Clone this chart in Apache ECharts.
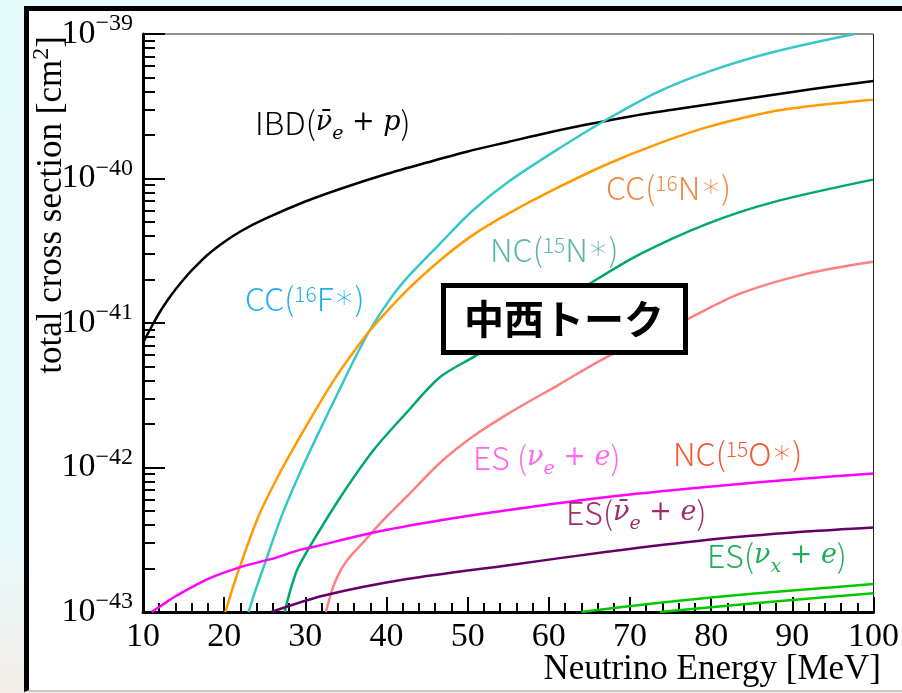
<!DOCTYPE html>
<html>
<head>
<meta charset="utf-8">
<script src="https://cdn.jsdelivr.net/npm/echarts@6/dist/echarts.min.js"></script>
<style>
  html, body { margin: 0; padding: 0; width: 902px; height: 693px; overflow: hidden; }
  body { background: linear-gradient(180deg, #e6fbfb 0%, #e8fafa 78%, #f2ece8 100%); }
  #panel { position: absolute; left: 24px; top: 6px; width: 900px; height: 679px; background: #fff;
           border-left: 5px solid #000; border-top: 5px solid #000; border-bottom: 2px solid #c8c8c8; }
  #chart { position: absolute; left: 0; top: 0; width: 902px; height: 693px; }
</style>
</head>
<body>
<div id="panel"></div>
<div id="chart"></div>
<script>
// Neutrino energy [MeV] and total cross section [cm^2] for each reaction channel
const energyIBD = [10, 11, 12, 13, 14, 15, 16, 18, 20, 22, 25, 30, 35, 40, 45, 50, 55, 60, 65, 70, 75, 80, 85, 90, 95, 100];
const sigmaIBD  = [7.28e-42, 9.31e-42, 1.173e-41, 1.432e-41, 1.706e-41, 2.0e-41, 2.31e-41, 2.98e-41, 3.64e-41,
                   4.30e-41, 5.25e-41, 6.93e-41, 8.73e-41, 1.074e-40, 1.29e-40, 1.538e-40, 1.79e-40, 2.08e-40,
                   2.38e-40, 2.69e-40, 2.98e-40, 3.28e-40, 3.61e-40, 3.97e-40, 4.35e-40, 4.73e-40];

const energyCC16F = [23.0, 24.0, 25.02, 27.05, 29.49, 31.92, 34.36, 36.43, 38.02, 40.2, 42.52, 46.54, 50.59,
                     55.06, 61.15, 67.24, 73.33, 79.42, 87.54, 97.65];
const sigmaCC16F  = [1.0e-43, 1.49e-43, 2.17e-43, 4.57e-43, 9.61e-43, 1.875e-42, 3.6e-42, 6.2e-42, 9.08e-42,
                     1.40e-41, 2.05e-41, 3.52e-41, 5.98e-41, 9.53e-41, 1.60e-40, 2.58e-40, 3.95e-40, 5.43e-40,
                     7.47e-40, 1.0e-39];

const energyCC16N = [20.15, 20.96, 21.78, 24.21, 27.05, 30.30, 33.54, 35.94, 38.01, 42.48, 46.54, 50.59, 55.06,
                     61.15, 67.24, 73.33, 79.42, 87.54, 93.67, 99.92];
const sigmaCC16N  = [1.0e-43, 1.41e-43, 1.95e-43, 4.57e-43, 9.61e-43, 2.02e-42, 4.04e-42, 6.3e-42, 8.95e-42,
                     1.675e-41, 2.70e-41, 4.04e-41, 5.73e-41, 8.67e-41, 1.26e-40, 1.73e-40, 2.26e-40, 2.91e-40,
                     3.24e-40, 3.51e-40];

const energyNC15N = [27.45, 28.27, 29.08, 31.11, 34.36, 38.41, 42.48, 46.54, 51.01, 65.62, 71.3, 79.42, 87.54, 99.92];
const sigmaNC15N  = [1.0e-43, 1.49e-43, 2.01e-43, 3.20e-43, 6.28e-43, 1.32e-42, 2.4e-42, 4.2e-42, 5.95e-42,
                     1.96e-41, 3.01e-41, 4.84e-41, 6.84e-41, 9.82e-41];

const energyNC15O = [32.53, 33.38, 34.36, 35.57, 36.79, 39.23, 42.48, 46.54, 50.59, 55.06, 61.15, 67.24,
                     76.41, 83.47, 91.6, 99.92];
const sigmaNC15O  = [1.0e-43, 1.47e-43, 1.95e-43, 2.44e-43, 2.89e-43, 4.11e-43, 6.28e-43, 1.07e-42, 1.63e-42,
                     2.37e-42, 3.72e-42, 5.85e-42, 1.02e-41, 1.59e-41, 2.18e-41, 2.65e-41];

const energyESnue = [11.06, 12.9, 14.06, 18.1, 22.2, 26.2, 29.1, 31.1, 38.4, 46.5, 55.06, 67.2, 79.4, 91.6, 100];
const sigmaESnue  = [1.0e-43, 1.17e-43, 1.29e-43, 1.7e-43, 2.06e-43, 2.36e-43, 2.67e-43, 2.83e-43, 3.55e-43,
                     4.3e-43, 5.08e-43, 6.25e-43, 7.33e-43, 8.4e-43, 9.1e-43];

const energyESnuebar = [25.8, 32.3, 42.5, 55.06, 67.2, 79.4, 91.6, 100];
const sigmaESnuebar  = [1.0e-43, 1.3e-43, 1.69e-43, 2.11e-43, 2.61e-43, 3.15e-43, 3.6e-43, 3.85e-43];

const energyESnux = [64, 72, 80, 90, 100];
const sigmaESnux  = [1.0e-43, 1.13e-43, 1.26e-43, 1.41e-43, 1.56e-43];

const energyESnuxbar = [73.7, 80, 90, 100];
const sigmaESnuxbar  = [1.0e-43, 1.08e-43, 1.21e-43, 1.35e-43];

// Axis ticks
const xTickValues = [10, 20, 30, 40, 50, 60, 70, 80, 90, 100];
const yTickExponents = [-43, -42, -41, -40, -39];
const yMinorMantissas = [2, 3, 4, 5, 6, 7, 8, 9];

// Cross sections are plotted in units of 1e-43 cm^2 so the log axis stays in a safe numeric range
const UNIT = 1e-43;
const BASE_EXP = -43;

const yMajorValues = yTickExponents.map(k => Math.pow(10, k - BASE_EXP));
const yMinorValues = [];
yTickExponents.slice(0, -1).forEach(k => {
  yMinorMantissas.forEach(m => yMinorValues.push(m * Math.pow(10, k - BASE_EXP)));
});

function toSeriesData(energies, sigmas) {
  return energies.map((e, i) => [e, sigmas[i] / UNIT]);
}

const curves = [
  { name: 'IBD',          e: energyIBD,      s: sigmaIBD,      color: '#000000' },
  { name: 'CC(16F*)',     e: energyCC16F,    s: sigmaCC16F,    color: '#36c8c8' },
  { name: 'CC(16N*)',     e: energyCC16N,    s: sigmaCC16N,    color: '#ff9a00' },
  { name: 'NC(15N*)',     e: energyNC15N,    s: sigmaNC15N,    color: '#00a86a' },
  { name: 'NC(15O*)',     e: energyNC15O,    s: sigmaNC15O,    color: '#ff8080' },
  { name: 'ES(nue+e)',    e: energyESnue,    s: sigmaESnue,    color: '#ff00ff' },
  { name: 'ES(nuebar+e)', e: energyESnuebar, s: sigmaESnuebar, color: '#660066' },
  { name: 'ES(nux+e)',    e: energyESnux,    s: sigmaESnux,    color: '#00c800' },
  { name: 'ES(nuxbar+e)', e: energyESnuxbar, s: sigmaESnuxbar, color: '#00c800' }
];

const SERIF = '"Liberation Serif", "Times New Roman", serif';
const SANS = '"Noto Sans CJK JP", "Noto Sans", sans-serif';
const MATH = '"DejaVu Serif", serif';

// Rich-text pieces shared by the channel labels
function labelRich(color) {
  return {
    n:   { fontFamily: SANS, fontSize: 32, fontWeight: 300, fill: color, lineHeight: 36 },
    ast: { fontFamily: '"DejaVu Sans ExtraLight", "DejaVu Sans", sans-serif', fontSize: 33, fontWeight: 200,
           fill: color, lineHeight: 36 },
    sup: { fontFamily: SANS, fontSize: 21, fontWeight: 300, fill: color, verticalAlign: 'top', lineHeight: 20, height: 27 },
    m:   { fontFamily: MATH, fontStyle: 'italic', fontSize: 27, fill: color, lineHeight: 36 },
    op:  { fontFamily: MATH, fontSize: 27, fill: color, lineHeight: 36 },
    sub: { fontFamily: MATH, fontStyle: 'italic', fontSize: 19, fill: color, verticalAlign: 'bottom', lineHeight: 20, height: 13 }
  };
}

function channelLabel(text, x, y, color) {
  return {
    type: 'text', x: x, y: y, z: 90, silent: true,
    style: { text: text, align: 'left', verticalAlign: 'middle', rich: labelRich(color) }
  };
}

const NU = '\u03BD';
const NUBAR = '\u03BD\u0304';
const AST = '\u2217';

const chart = echarts.init(document.getElementById('chart'), null, { renderer: 'canvas' });

chart.setOption({
  animation: false,
  backgroundColor: 'transparent',
  grid: { left: 143, right: 20, top: 34, bottom: 81, show: true, borderColor: '#222', borderWidth: 1,
          backgroundColor: 'transparent' },
  xAxis: {
    type: 'value', min: 10, max: 100, interval: 10,
    axisLine: { lineStyle: { color: '#000', width: 3 } },
    axisTick: { inside: true, length: 15, lineStyle: { color: '#000', width: 2 } },
    minorTick: { show: true, splitNumber: 5, length: 9, lineStyle: { color: '#000', width: 2 } },
    splitLine: { show: false },
    axisLabel: { customValues: xTickValues, showMinLabel: true, showMaxLabel: true, hideOverlap: false,
                 fontFamily: SERIF, fontSize: 34, color: '#000', margin: 8 }
  },
  yAxis: [
    {
      type: 'log', logBase: 10, min: yMajorValues[0], max: yMajorValues[yMajorValues.length - 1], position: 'left',
      axisLine: { onZero: false, lineStyle: { color: '#000', width: 3 } },
      axisTick: { inside: true, length: 22, customValues: yMajorValues, lineStyle: { color: '#000', width: 2 } },
      splitLine: { show: false },
      axisLabel: {
        customValues: yMajorValues, margin: 10,
        formatter: v => {
          const k = Math.round(Math.log10(v)) + BASE_EXP;
          return '{b|10}{s|\u2212' + (-k) + '}';
        },
        rich: {
          b: { fontFamily: SERIF, fontSize: 34, color: '#000', lineHeight: 40 },
          s: { fontFamily: SERIF, fontSize: 24, color: '#000', verticalAlign: 'top', lineHeight: 20, height: 20 }
        }
      }
    },
    {
      type: 'log', logBase: 10, min: yMajorValues[0], max: yMajorValues[yMajorValues.length - 1], position: 'left',
      offset: 0,
      axisLine: { show: false },
      axisLabel: { show: false },
      splitLine: { show: false },
      axisTick: { inside: true, length: 12, customValues: yMinorValues, lineStyle: { color: '#000', width: 2 } }
    }
  ],
  series: curves.map(c => ({
    name: c.name, type: 'line', yAxisIndex: 0, showSymbol: false, silent: true,
    smooth: 0.3, clip: true,
    lineStyle: { color: c.color, width: 2.5 },
    data: toSeriesData(c.e, c.s)
  })),
  graphic: [
    // axis titles
    {
      type: 'text', x: 52, y: 205, rotation: Math.PI / 2, z: 90, silent: true,
      style: {
        text: '{t|total cross section [cm}{s|2}{t|]}', align: 'center', verticalAlign: 'middle',
        rich: {
          t: { fontFamily: SERIF, fontSize: 35, fill: '#000', lineHeight: 40 },
          s: { fontFamily: SERIF, fontSize: 24, fill: '#000', verticalAlign: 'top', lineHeight: 20, height: 20 }
        }
      }
    },
    {
      type: 'text', x: 881, y: 670, z: 90, silent: true,
      style: { text: 'Neutrino Energy [MeV]', align: 'right', verticalAlign: 'middle',
               fontFamily: SERIF, fontSize: 35, fill: '#000' }
    },
    // channel labels
    channelLabel('{n|IBD(}{m|' + NUBAR + '}{sub|e}{op| + }{m|p}{n|)}', 255, 123, '#000000'),
    channelLabel('{n|CC(}{sup|16}{n|F}{ast|' + AST + '}{n|)}', 245, 299, '#20b0ee'),
    channelLabel('{n|NC(}{sup|15}{n|N}{ast|' + AST + '}{n|)}', 490, 250, '#5bb5a9'),
    channelLabel('{n|CC(}{sup|16}{n|N}{ast|' + AST + '}{n|)}', 606, 188, '#ee8844'),
    channelLabel('{n|ES (}{m|' + NU + '}{sub|e}{op| + }{m|e}{n|)}', 473, 458, '#ff66ee'),
    channelLabel('{n|NC(}{sup|15}{n|O}{ast|' + AST + '}{n|)}', 673, 454, '#f4582f'),
    channelLabel('{n|ES(}{m|' + NUBAR + '}{sub|e}{op| + }{m|e}{n|)}', 566, 513, '#9c2c6c'),
    channelLabel('{n|ES(}{m|' + NU + '}{sub|x}{op| + }{m|e}{n|)}', 707, 556, '#22ae58'),
    // talk title box
    {
      type: 'rect', z: 95, silent: true,
      shape: { x: 443.5, y: 285.5, width: 242, height: 67 },
      style: { fill: '#ffffff', stroke: '#000000', lineWidth: 5 }
    },
    {
      type: 'text', x: 564, y: 319, z: 96, silent: true,
      style: { text: '中西トーク', align: 'center', verticalAlign: 'middle',
               fontFamily: '"Noto Sans CJK JP", sans-serif', fontWeight: 'bold', fontSize: 40, fill: '#000' }
    }
  ]
});
</script>
</body>
</html>
